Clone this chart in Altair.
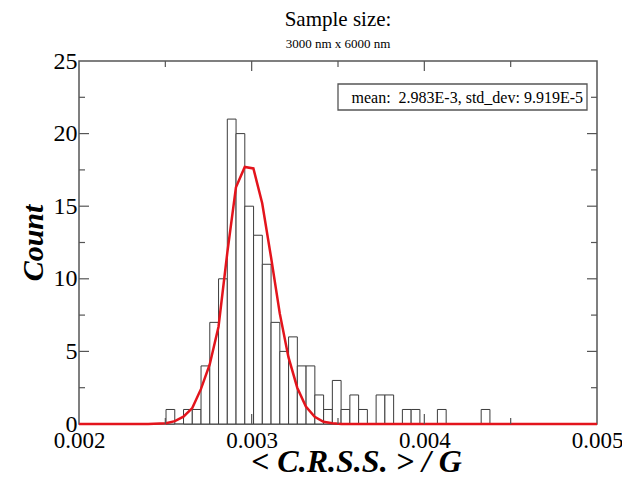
import altair as alt
import pandas as pd

# ---- data ----
BIN_START = 0.002504
BIN_WIDTH = 0.0000507
counts = [1, 0, 1, 1, 4, 7, 10, 21, 20, 15, 13, 11, 7, 5, 6, 4, 4, 2, 1, 3,
          1, 2, 1, 0, 2, 2, 0, 1, 1, 0, 0, 1, 0, 0, 0, 0, 1]

curve_x = [0.0020, 0.00240, 0.002504, 0.002555, 0.002605, 0.002656, 0.002706,
           0.002757, 0.002808, 0.002859, 0.002909, 0.002960, 0.003010,
           0.003061, 0.003112, 0.003163, 0.003213, 0.003264, 0.003314,
           0.003365, 0.003416, 0.003467, 0.003520, 0.0050]
curve_y = [0.0, 0.0, 0.05, 0.2, 0.5, 1.1, 2.4, 4.1, 6.7, 11.8, 16.3, 17.7, 17.6,
           15.2, 11.5, 7.6, 4.6, 2.5, 1.2, 0.5, 0.15, 0.05, 0.0, 0.0]

x_tick_labels = [0.002, 0.003, 0.004, 0.005]
x_major = [0.003, 0.004]
x_minor = [0.0025, 0.0035, 0.0045]
y_tick_labels = [0, 5, 10, 15, 20, 25]
y_major = [5, 10, 15, 20]
y_minor = [2.5, 7.5, 12.5, 17.5, 22.5]

stats_text = "mean:\u00a0 2.983E-3, std_dev: 9.919E-5"

W, H = 518, 363
SERIF = "Liberation Serif"

bars = pd.DataFrame({
    "x0": [BIN_START + i * BIN_WIDTH for i in range(len(counts))],
    "x1": [BIN_START + (i + 1) * BIN_WIDTH for i in range(len(counts))],
    "count": counts,
})
bars = bars[bars["count"] > 0]

xs = alt.Scale(domain=[0.002, 0.005], nice=False, zero=False)
ys = alt.Scale(domain=[0, 25], nice=False)

x_axis = alt.Axis(values=x_tick_labels, format=".3f", ticks=False, domain=False,
                  grid=False, labelFont=SERIF, labelFontSize=23, labelColor="black",
                  labelPadding=5, labelFlush=False,
                  title="< C.R.S.S. > / G", titleFont=SERIF, titleFontSize=32,
                  titleFontWeight="bold", titleFontStyle="italic", titleColor="black",
                  titlePadding=-6, titleX=277)
y_axis = alt.Axis(values=y_tick_labels, ticks=False, domain=False, grid=False,
                  labelFont=SERIF, labelFontSize=24, labelColor="black",
                  labelPadding=2, labelFlush=False,
                  title="Count", titleFont=SERIF, titleFontSize=30,
                  titleFontWeight="bold", titleFontStyle="italic", titleColor="black",
                  titlePadding=5)

hist = alt.Chart(bars).mark_rect(fill="white", stroke="#3c3c3c", strokeWidth=1).encode(
    x=alt.X("x0:Q", scale=xs, axis=x_axis),
    x2="x1:Q",
    y=alt.Y("count:Q", scale=ys, axis=y_axis),
    y2=alt.datum(0),
)

curve = alt.Chart(pd.DataFrame({"x": curve_x, "y": curve_y})).mark_line(
    color="#e3141c", strokeWidth=2.5).encode(
    x=alt.X("x:Q", scale=xs), y=alt.Y("y:Q", scale=ys))

TICK_C = "#555555"
xmaj = pd.DataFrame({"v": x_major})
xmin = pd.DataFrame({"v": x_minor})
ymaj = pd.DataFrame({"v": y_major})
ymin = pd.DataFrame({"v": y_minor})

def xticks(df, length):
    bot = alt.Chart(df).mark_rule(color=TICK_C, strokeWidth=1.2).encode(
        x=alt.X("v:Q", scale=xs), y=alt.value(H), y2=alt.value(H - length))
    top = alt.Chart(df).mark_rule(color=TICK_C, strokeWidth=1.2).encode(
        x=alt.X("v:Q", scale=xs), y=alt.value(0), y2=alt.value(length))
    return [bot, top]

def yticks(df, length):
    left = alt.Chart(df).mark_rule(color=TICK_C, strokeWidth=1.2).encode(
        y=alt.Y("v:Q", scale=ys), x=alt.value(0), x2=alt.value(length))
    right = alt.Chart(df).mark_rule(color=TICK_C, strokeWidth=1.2).encode(
        y=alt.Y("v:Q", scale=ys), x=alt.value(W), x2=alt.value(W - length))
    return [left, right]

ticks = xticks(xmaj, 10) + xticks(xmin, 6) + yticks(ymaj, 10) + yticks(ymin, 6)

box_df = pd.DataFrame({"t": [stats_text]})
box = alt.Chart(box_df).mark_rect(fill="white", stroke="#555555", strokeWidth=1.3).encode(
    x=alt.value(259), x2=alt.value(508), y=alt.value(23), y2=alt.value(49))
box_text = alt.Chart(box_df).mark_text(
    font=SERIF, fontSize=16, color="black", align="right", baseline="middle").encode(
    x=alt.value(504), y=alt.value(36.5), text="t:N")

chart = alt.layer(hist, curve, *ticks, box, box_text).properties(
    width=W, height=H,
    title=alt.TitleParams(text="Sample size:", subtitle="3000 nm x 6000 nm",
                          font=SERIF, fontSize=21, fontWeight="normal", color="black",
                          subtitleFont=SERIF, subtitleFontSize=13, subtitleColor="black",
                          subtitlePadding=8, anchor="middle", offset=-2),
    autosize=alt.AutoSizeParams(type="none"),
    padding={"left": 71, "top": 53, "right": 25, "bottom": 49},
).configure_view(stroke="#555555", strokeWidth=1.5)

chart.save("out.html", embed_options={"renderer": "svg", "actions": False})
